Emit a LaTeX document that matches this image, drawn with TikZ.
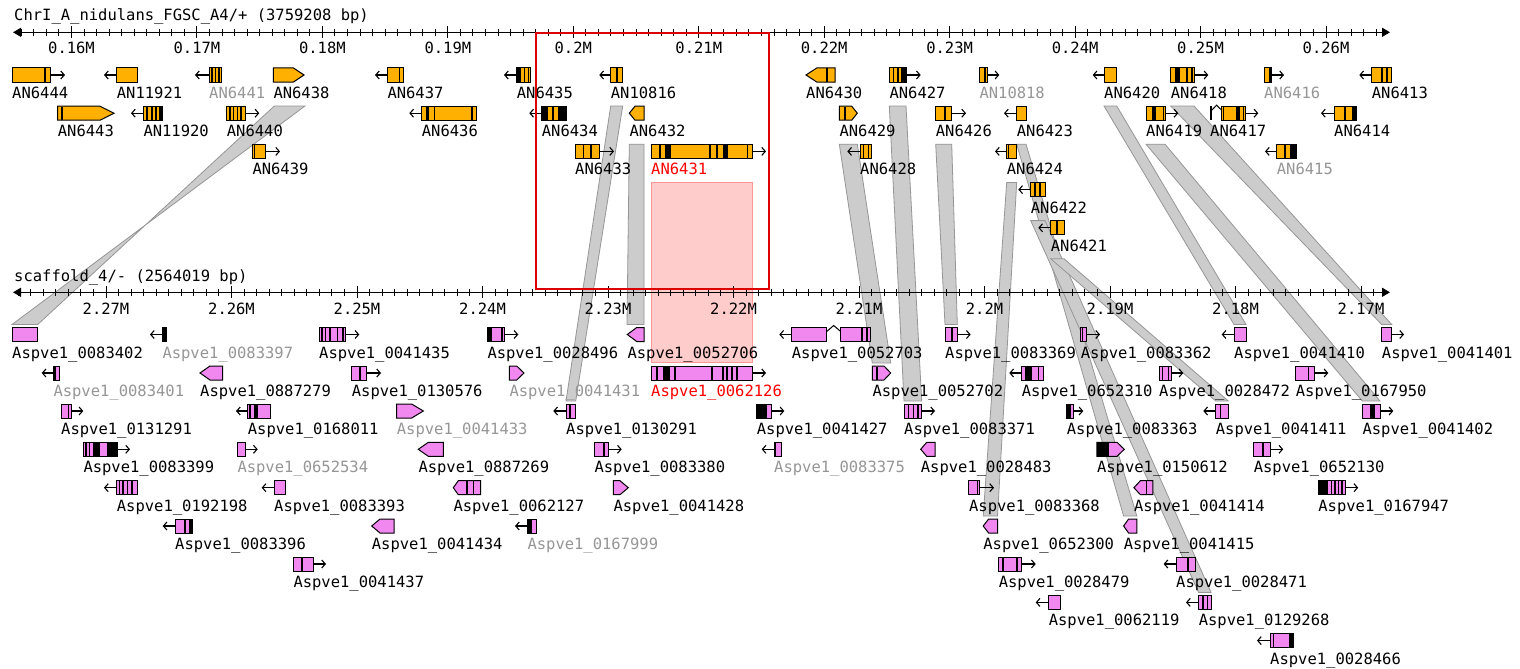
\documentclass[tikz,border=0pt]{standalone}
\usepackage{fontspec}
\newfontfamily\lblfont{DejaVu Sans Mono}
\usetikzlibrary{arrows.meta}
\definecolor{geneorange}{RGB}{255,176,0}
\definecolor{genepink}{RGB}{240,136,240}
\definecolor{bandfill}{RGB}{204,204,204}
\definecolor{bandedge}{RGB}{150,150,150}
\definecolor{shadefill}{RGB}{255,204,204}
\definecolor{shadeedge}{RGB}{255,150,150}
\definecolor{boxred}{RGB}{220,0,0}
\definecolor{txtgray}{RGB}{150,150,150}
\definecolor{txtred}{RGB}{255,0,0}
\tikzset{
 ob/.style={draw=black, fill=geneorange, line width=1pt},
 pb/.style={draw=black, fill=genepink, line width=1pt},
 exonline/.style={line width=1.6pt, black},
 dirarrow/.style={-{Straight Barb[length=3.5pt,width=8pt]}, line width=1.1pt, black},
 glabel/.style={anchor=base west, inner sep=0pt, font=\lblfont\fontsize{15.5}{18}\selectfont},
 lblk/.style={glabel},
 lgry/.style={glabel, text=txtgray},
 lred/.style={glabel, text=txtred},
 band/.style={fill=bandfill, draw=bandedge, line width=0.8pt},
 rulerline/.style={line width=1.3pt, {Triangle[length=8pt,width=9pt]}-{Triangle[length=8pt,width=9pt]}},
 tickline/.style={line width=1pt},
 rlabel/.style={anchor=base, inner sep=0pt, font=\lblfont\fontsize{15.5}{18}\selectfont},
 redbox/.style={draw=boxred, line width=2pt},
 pinkshade/.style={fill=shadefill, draw=shadeedge, line width=1pt},
}
% gene helpers
\newcommand\gbox[4]{\draw[#1] (#3,#2-7) rectangle (#4,#2+7);}
\newcommand\gpr[5]{\draw[#1] (#3,#2-7) -- (#4,#2-7) -- (#5,#2) -- (#4,#2+7) -- (#3,#2+7) -- cycle;}
\newcommand\gpl[5]{\draw[#1] (#3,#2) -- (#4,#2-7) -- (#5,#2-7) -- (#5,#2+7) -- (#4,#2+7) -- cycle;}
\newcommand\gst[2]{\draw[exonline] (#2,#1-6.5) -- (#2,#1+6.5);}
\newcommand\gblk[3]{\fill[black] (#2,#1-7) rectangle (#3,#1+7);}
\newcommand\gar[3]{\draw[dirarrow] (#2,#1) -- (#3,#1);}
\newcommand\tlab[4]{\node[#1] (t#4) at (#3,#2+23.5) {AN#4};}
\newcommand\blab[4]{\node[#1] (b#4) at (#3,#2+23.5) {Aspve1\_#4};}
\begin{document}
\begin{tikzpicture}[x=1pt,y=-1pt]
\useasboundingbox (0,0) rectangle (1520,669);
\fill[white] (0,0) rectangle (1520,669);
% highlighted region
\draw[pinkshade] (651,182) rectangle (752.7,362.7);
% synteny bands
\draw[band] (274.3,106) -- (305,106) -- (12,324.5) -- (37.7,324.5) -- cycle;
\draw[band] (610.7,106) -- (622.7,106) -- (575.7,401) -- (566,401) -- cycle;
\draw[band] (629.3,144.2) -- (644,144.2) -- (644,324.5) -- (627,324.5) -- cycle;
\draw[band] (839.3,144.2) -- (857.3,144.2) -- (890.7,363) -- (872.3,363) -- cycle;
\draw[band] (889.3,106) -- (906,106) -- (921.7,401) -- (904,401) -- cycle;
\draw[band] (935.7,144.2) -- (951.7,144.2) -- (957.3,324.5) -- (945,324.5) -- cycle;
\draw[band] (1006.7,182.4) -- (1016.7,182.4) -- (997.5,516) -- (983.2,516) -- cycle;
\draw[band] (1016.7,144.2) -- (1026,144.2) -- (1136.8,516) -- (1123.6,516) -- cycle;
\draw[band] (1030.7,220.6) -- (1045,220.6) -- (1211,592.4) -- (1198.6,592.4) -- cycle;
\draw[band] (1050.7,258.8) -- (1064,258.8) -- (1228.3,401) -- (1215.7,401) -- cycle;
\draw[band] (1104,106) -- (1116.7,106) -- (1246,324.5) -- (1234,324.5) -- cycle;
\draw[band] (1146,144.2) -- (1165,144.2) -- (1380,401) -- (1362.3,401) -- cycle;
\draw[band] (1170.7,106) -- (1194,106) -- (1391.7,324.5) -- (1381.7,324.5) -- cycle;
% top ruler
\node[glabel] (toptitle) at (14,20.5) {ChrI\_A\_nidulans\_FGSC\_A4/+ (3759208 bp)};
\draw[rulerline] (13,32.3) -- (1390,32.3);
\foreach \k in {-4,...,104} {\draw[tickline] ({71.5+12.545*\k},28.8) -- ({71.5+12.545*\k},35.8);}
\foreach \k/\t in {0/0.16M,1/0.17M,2/0.18M,3/0.19M,4/0.2M,5/0.21M,6/0.22M,7/0.23M,8/0.24M,9/0.25M,10/0.26M}{
  \draw[tickline] ({71.5+125.45*\k},26.3) -- ({71.5+125.45*\k},38.3);
  \node[rlabel] (tt\k) at ({71.5+125.45*\k},54) {\t};}
% bottom ruler
\node[glabel] (bottitle) at (14,281.5) {scaffold\_4/- (2564019 bp)};
\draw[rulerline] (13,292.3) -- (1390,292.3);
\foreach \k in {-7,...,101} {\draw[tickline] ({106+12.55*\k},288.8) -- ({106+12.55*\k},295.8);}
\foreach \k/\t in {0/2.27M,1/2.26M,2/2.25M,3/2.24M,4/2.23M,5/2.22M,6/2.21M,7/2.2M,8/2.19M,9/2.18M,10/2.17M}{
  \draw[tickline] ({106+125.5*\k},286.3) -- ({106+125.5*\k},298.3);
  \node[rlabel] (bt\k) at ({106+125.5*\k},314.3) {\t};}
% ---------- top genes ----------
% row 0
\gbox{ob}{75}{12}{50.7} \gst{75}{45} \gar{75}{50.7}{65} \tlab{lblk}{75}{12}{6444}
\gar{75}{116.7}{104} \gbox{ob}{75}{116.7}{137.3} \tlab{lblk}{75}{116.7}{11921}
\gar{75}{209}{195} \gbox{ob}{75}{209}{221.7} \gst{75}{212}\gst{75}{215.5}\gst{75}{219} \tlab{lgry}{75}{209}{6441}
\gpr{ob}{75}{273.3}{293.5}{304} \tlab{lblk}{75}{273.3}{6438}
\gar{75}{387.3}{375} \gbox{ob}{75}{387.3}{403.3} \gst{75}{399.3} \tlab{lblk}{75}{387.3}{6437}
\gar{75}{516.7}{504} \gbox{ob}{75}{516.7}{530} \gblk{75}{516.7}{520.5} \gst{75}{524.5}\gst{75}{528.3} \tlab{lblk}{75}{516.7}{6435}
\gar{75}{610.7}{599.3} \gbox{ob}{75}{610.7}{622.7} \gst{75}{616.7} \tlab{lblk}{75}{610.7}{10816}
\gpl{ob}{75}{806}{816.7}{835} \gst{75}{826.7} \tlab{lblk}{75}{806}{6430}
\gbox{ob}{75}{889.3}{906} \gst{75}{893.3}\gst{75}{898}\gblk{75}{901}{906} \gar{75}{906}{920.7} \tlab{lblk}{75}{889.3}{6427}
\gbox{ob}{75}{979.3}{987.3} \gst{75}{985} \gar{75}{987.3}{999.3} \tlab{lgry}{75}{979.3}{10818}
\gar{75}{1104}{1092.7} \gbox{ob}{75}{1104}{1116.7} \tlab{lblk}{75}{1104}{6420}
\gbox{ob}{75}{1170.7}{1194} \gblk{75}{1175}{1180} \gst{75}{1186.7}\gst{75}{1191.7} \gar{75}{1194}{1208.3} \tlab{lblk}{75}{1170.7}{6418}
\gbox{ob}{75}{1264}{1271.7} \gst{75}{1270} \gar{75}{1271.7}{1284} \tlab{lgry}{75}{1264}{6416}
\gar{75}{1371.7}{1359.3} \gbox{ob}{75}{1371.7}{1391.7} \gst{75}{1381.7}\gst{75}{1386.7} \tlab{lblk}{75}{1371.7}{6413}
% row 1
\gpr{ob}{113.2}{57.7}{100}{114} \gst{113.2}{61.7} \tlab{lblk}{113.2}{57.7}{6443}
\gar{113.2}{143.3}{131} \gbox{ob}{113.2}{143.3}{162.3} \gst{113.2}{147}\gst{113.2}{151.7}\gst{113.2}{156}\gblk{113.2}{158.5}{162.3} \tlab{lblk}{113.2}{143.3}{11920}
\gbox{ob}{113.2}{226.7}{245.7} \gst{113.2}{230}\gst{113.2}{233.5}\gst{113.2}{237.3}\gst{113.2}{240.7} \gar{113.2}{245.7}{259.3} \tlab{lblk}{113.2}{226.7}{6440}
\gar{113.2}{421.7}{409.3} \gbox{ob}{113.2}{421.7}{476} \gblk{113.2}{425.5}{429} \gst{113.2}{434.3}\gst{113.2}{471.7} \tlab{lblk}{113.2}{421.7}{6436}
\gar{113.2}{541.7}{529.3} \gbox{ob}{113.2}{541.7}{566.7} \gblk{113.2}{541.7}{548.3}\gst{113.2}{553}\gblk{113.2}{558}{566.7} \tlab{lblk}{113.2}{541.7}{6434}
\gpl{ob}{113.2}{629.3}{635}{644} \tlab{lblk}{113.2}{629.3}{6432}
\gpr{ob}{113.2}{839.3}{851.7}{857.3} \gst{113.2}{845} \tlab{lblk}{113.2}{839.3}{6429}
\gbox{ob}{113.2}{935.7}{951.7} \gst{113.2}{945} \gar{113.2}{951.7}{966} \tlab{lblk}{113.2}{935.7}{6426}
\gar{113.2}{1016.7}{1004} \gbox{ob}{113.2}{1016.7}{1026} \tlab{lblk}{113.2}{1016.7}{6423}
\gbox{ob}{113.2}{1146}{1165} \gblk{113.2}{1151.7}{1156}\gst{113.2}{1163.3} \gar{113.2}{1165}{1178.3} \tlab{lblk}{113.2}{1146}{6419}
\draw[exonline] (1211,106.2) -- (1211,120.2);
\draw[line width=1pt] (1211.8,110.2) -- (1216.5,105.2) -- (1221.7,110.2);
\gbox{ob}{113.2}{1221.7}{1245} \gst{113.2}{1223.3}\gblk{113.2}{1236}{1240}\gst{113.2}{1243.3} \gar{113.2}{1245}{1258.3} \tlab{lblk}{113.2}{1210}{6417}
\gar{113.2}{1334}{1321} \gbox{ob}{113.2}{1334}{1356.7} \gst{113.2}{1345}\gblk{113.2}{1351.7}{1356.7} \tlab{lblk}{113.2}{1334}{6414}
% row 2
\gbox{ob}{151.4}{252.3}{265} \gst{151.4}{254.5} \gar{151.4}{265}{280} \tlab{lblk}{151.4}{252.3}{6439}
\gbox{ob}{151.4}{575}{599.3} \gst{151.4}{583.3}\gst{151.4}{591} \gar{151.4}{599.3}{614} \tlab{lblk}{151.4}{575}{6433}
\gbox{ob}{151.4}{651}{752.7} \gst{151.4}{660}\gblk{151.4}{665}{671}\gst{151.4}{710}\gst{151.4}{716.7}\gblk{151.4}{723.3}{728.3}\gst{151.4}{747.3} \gar{151.4}{752.7}{766} \tlab{lred}{151.4}{651}{6431}
\gar{151.4}{860}{847.3} \gbox{ob}{151.4}{860}{871.7} \gst{151.4}{863.3}\gst{151.4}{868.3} \tlab{lblk}{151.4}{860}{6428}
\gar{151.4}{1006.7}{995} \gbox{ob}{151.4}{1006.7}{1016.7} \gst{151.4}{1008.5} \tlab{lblk}{151.4}{1006.7}{6424}
\gar{151.4}{1276.7}{1265} \gbox{ob}{151.4}{1276.7}{1296.7} \gst{151.4}{1285}\gblk{151.4}{1290}{1296.7} \tlab{lgry}{151.4}{1276.7}{6415}
% row 3, 4
\gar{189.6}{1030.7}{1018.3} \gbox{ob}{189.6}{1030.7}{1045} \gst{189.6}{1035}\gst{189.6}{1040} \tlab{lblk}{189.6}{1030.7}{6422}
\gar{227.8}{1050.7}{1038.3} \gbox{ob}{227.8}{1050.7}{1064} \gst{227.8}{1056.7} \tlab{lblk}{227.8}{1050.7}{6421}
% ---------- bottom genes ----------
% row 0
\gbox{pb}{334.5}{12}{37.7} \blab{lblk}{334.5}{12}{0083402}
\gar{334.5}{162.3}{150} \gbox{pb}{334.5}{162.3}{166.7} \gblk{334.5}{162.3}{166.7} \blab{lgry}{334.5}{162.3}{0083397}
\gbox{pb}{334.5}{319}{345} \gst{334.5}{322}\gst{334.5}{325.5}\gst{334.5}{330}\gst{334.5}{337.5}\gst{334.5}{343} \gar{334.5}{345}{359.3} \blab{lblk}{334.5}{319}{0041435}
\gbox{pb}{334.5}{487.3}{504} \gblk{334.5}{487.3}{491.7}\gst{334.5}{501.7} \gar{334.5}{504}{518.3} \blab{lblk}{334.5}{487.3}{0028496}
\gpl{pb}{334.5}{627.3}{636.7}{644} \blab{lblk}{334.5}{627.3}{0052706}
\gar{334.5}{791.7}{779.3} \gbox{pb}{334.5}{791.7}{826.7}
\draw[line width=1pt] (826.7,331.5) -- (833.7,325.5) -- (840.7,331.5);
\gbox{pb}{334.5}{840.7}{870} \gst{334.5}{861.7}\gst{334.5}{866.7} \blab{lblk}{334.5}{791.7}{0052703}
\gbox{pb}{334.5}{945}{957.3} \gst{334.5}{951.7} \gar{334.5}{957.3}{970.7} \blab{lblk}{334.5}{945}{0083369}
\gbox{pb}{334.5}{1080.7}{1086} \gst{334.5}{1082.3} \gar{334.5}{1086}{1100} \blab{lblk}{334.5}{1080.7}{0083362}
\gar{334.5}{1234}{1221.7} \gbox{pb}{334.5}{1234}{1246} \blab{lblk}{334.5}{1234}{0041410}
\gbox{pb}{334.5}{1381.7}{1391.7} \gar{334.5}{1391.7}{1404} \blab{lblk}{334.5}{1381.7}{0041401}
% row 1
\gar{373}{53.3}{41.7} \gbox{pb}{373}{53.3}{59.3} \gst{373}{55} \blab{lgry}{373}{53.3}{0083401}
\gpl{pb}{373}{200}{210}{222.7} \blab{lblk}{373}{200}{0887279}
\gbox{pb}{373}{351.7}{366.7} \gst{373}{360} \gar{373}{366.7}{381} \blab{lblk}{373}{351.7}{0130576}
\gpr{pb}{373}{509.3}{516.7}{524} \blab{lgry}{373}{509.3}{0041431}
\gbox{pb}{373}{651}{752.7} \gst{373}{656.7}\gblk{373}{662.7}{670}\gst{373}{675}\gst{373}{712}\gst{373}{722.7}\gst{373}{727}\gst{373}{732}\gst{373}{737} \gar{373}{752.7}{766} \blab{lred}{373}{651}{0062126}
\gpr{pb}{373}{872.3}{884}{890.7} \gst{373}{876.7} \blab{lblk}{373}{872.3}{0052702}
\gar{373}{1021.7}{1009.3} \gbox{pb}{373}{1021.7}{1043.3} \gblk{373}{1025}{1031.7}\gst{373}{1038.3} \blab{lblk}{373}{1021.7}{0652310}
\gbox{pb}{373}{1159}{1171.7} \gst{373}{1162.3}\gst{373}{1168.3} \gar{373}{1171.7}{1183.3} \blab{lblk}{373}{1159}{0028472}
\gbox{pb}{373}{1295.7}{1314} \gst{373}{1308.3} \gar{373}{1314}{1328.3} \blab{lblk}{373}{1295.7}{0167950}
% row 2
\gbox{pb}{411}{61}{71.7} \gst{411}{68.3} \gar{411}{71.7}{83.3} \blab{lblk}{411}{61}{0131291}
\gar{411}{247.7}{236} \gbox{pb}{411}{247.7}{270.7} \gst{411}{250}\gblk{411}{254}{258.3} \blab{lblk}{411}{247.7}{0168011}
\gpr{pb}{411}{396.7}{411.7}{423.3} \blab{lgry}{411}{396.7}{0041433}
\gar{411}{566}{553.3} \gbox{pb}{411}{566}{575.7} \gst{411}{570} \blab{lblk}{411}{566}{0130291}
\gbox{pb}{411}{756.7}{771.7} \gblk{411}{756.7}{766.7} \gar{411}{771.7}{784.3} \blab{lblk}{411}{756.7}{0041427}
\gbox{pb}{411}{904}{921.7} \gst{411}{908.3}\gst{411}{913.3}\gst{411}{917.7} \gar{411}{921.7}{935} \blab{lblk}{411}{904}{0083371}
\gbox{pb}{411}{1066.7}{1073.3} \gblk{411}{1066.7}{1071} \gar{411}{1073.3}{1083.3} \blab{lblk}{411}{1066.7}{0083363}
\gar{411}{1215.7}{1203.3} \gbox{pb}{411}{1215.7}{1228.3} \gst{411}{1220.3} \blab{lblk}{411}{1215.7}{0041411}
\gbox{pb}{411}{1362.3}{1380} \gblk{411}{1370}{1375} \gar{411}{1380}{1393.3} \blab{lblk}{411}{1362.3}{0041402}
% row 3
\gbox{pb}{449.3}{83.3}{117.3} \gst{449.3}{86}\gst{449.3}{89.3}\gblk{449.3}{92.5}{100}\gblk{449.3}{107.3}{117.3} \gar{449.3}{117.3}{130} \blab{lblk}{449.3}{83.3}{0083399}
\gbox{pb}{449.3}{237.3}{245} \gar{449.3}{245}{257.7} \blab{lgry}{449.3}{237.3}{0652534}
\gpl{pb}{449.3}{418.3}{428.3}{443.3} \blab{lblk}{449.3}{418.3}{0887269}
\gbox{pb}{449.3}{594.3}{608.3} \gst{449.3}{604} \gar{449.3}{608.3}{621.7} \blab{lblk}{449.3}{594.3}{0083380}
\gar{449.3}{774}{761.7} \gbox{pb}{449.3}{774}{781.7} \gst{449.3}{775.5} \blab{lgry}{449.3}{774}{0083375}
\gpl{pb}{449.3}{920.7}{926.7}{935} \blab{lblk}{449.3}{920.7}{0028483}
\gpr{pb}{449.3}{1096.8}{1117}{1124.3} \gblk{449.3}{1096.8}{1109.3} \blab{lblk}{449.3}{1096.8}{0150612}
\gbox{pb}{449.3}{1253.6}{1270.7} \gst{449.3}{1262.9} \gar{449.3}{1270.7}{1283.2} \blab{lblk}{449.3}{1253.6}{0652130}
% row 4
\gar{487.7}{116.7}{104} \gbox{pb}{487.7}{116.7}{137.3} \gst{487.7}{119.3}\gst{487.7}{123}\gst{487.7}{127.3}\gst{487.7}{131.7} \blab{lblk}{487.7}{116.7}{0192198}
\gar{487.7}{274}{261.7} \gbox{pb}{487.7}{274}{285} \blab{lblk}{487.7}{274}{0083393}
\gpl{pb}{487.7}{453.3}{458.3}{480.7} \gst{487.7}{466.7}\gst{487.7}{473.3} \blab{lblk}{487.7}{453.3}{0062127}
\gpr{pb}{487.7}{613.3}{620}{628.3} \blab{lblk}{487.7}{613.3}{0041428}
\gbox{pb}{487.7}{968.9}{979.6} \gst{487.7}{977.5} \gar{487.7}{979.6}{994} \blab{lblk}{487.7}{968.9}{0083368}
\gpl{pb}{487.7}{1133.9}{1140.4}{1152.9} \gst{487.7}{1146.4} \blab{lblk}{487.7}{1133.9}{0041414}
\gbox{pb}{487.7}{1318.2}{1345} \gblk{487.7}{1318.2}{1327.9}\gst{487.7}{1331.5}\gst{487.7}{1335}\gst{487.7}{1338.5}\gst{487.7}{1342} \gar{487.7}{1345}{1358.2} \blab{lblk}{487.7}{1318.2}{0167947}
% row 5
\gar{526}{175}{162.7} \gbox{pb}{526}{175}{192.7} \gst{526}{185}\gblk{526}{188.5}{192.7} \blab{lblk}{526}{175}{0083396}
\gpl{pb}{526}{371.7}{380}{394} \blab{lblk}{526}{371.7}{0041434}
\gar{526}{527.3}{515} \gbox{pb}{526}{527.3}{536} \gblk{526}{527.3}{531.7} \blab{lgry}{526}{527.3}{0167999}
\gpl{pb}{526}{983.2}{988.6}{997.5} \blab{lblk}{526}{983.2}{0652300}
\gpl{pb}{526}{1123.6}{1128.6}{1136.8} \blab{lblk}{526}{1123.6}{0041415}
% row 6
\gbox{pb}{564}{293.3}{313.3} \gst{564}{301.7} \gar{564}{313.3}{326} \blab{lblk}{564}{293.3}{0041437}
\gbox{pb}{564}{998.6}{1021.4} \gst{564}{1002.9}\gst{564}{1017.1} \gar{564}{1021.4}{1035.7} \blab{lblk}{564}{998.6}{0028479}
\gar{564}{1176}{1163.6} \gbox{pb}{564}{1176}{1195} \gst{564}{1187.9} \blab{lblk}{564}{1176}{0028471}
% row 7, 8
\gar{602.4}{1048.6}{1035.7} \gbox{pb}{602.4}{1048.6}{1060} \blab{lblk}{602.4}{1048.6}{0062119}
\gar{602.4}{1198.6}{1186} \gbox{pb}{602.4}{1198.6}{1211} \gst{602.4}{1202.9}\gst{602.4}{1207.5} \blab{lblk}{602.4}{1198.6}{0129268}
\gar{640.6}{1270}{1257} \gbox{pb}{640.6}{1270}{1293.2} \gst{640.6}{1273.6}\gblk{640.6}{1288.6}{1293.2} \blab{lblk}{640.6}{1270}{0028466}
% selection frame
\draw[redbox] (536,33) rectangle (769,289);
\end{tikzpicture}
\end{document}
